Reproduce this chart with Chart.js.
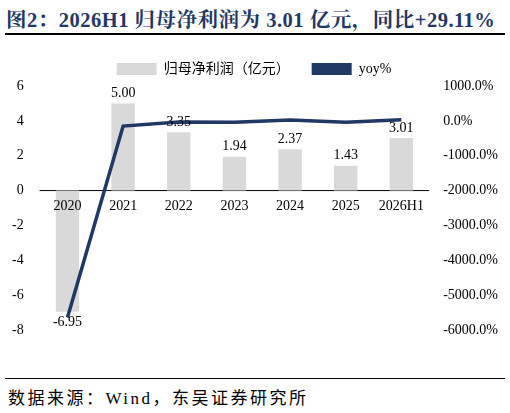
<!DOCTYPE html><html><head><meta charset="utf-8">
<script src="https://cdn.jsdelivr.net/npm/chart.js@4"></script>
<style>
body{margin:0;width:510px;height:413px;background:#fff;font-family:"Times New Roman","Liberation Serif","Noto Sans CJK SC",serif;position:relative}
#t{position:absolute;left:6px;top:3px;font-size:20.5px;font-weight:bold;color:#1f3864;font-family:"Liberation Serif","Noto Serif CJK SC","Noto Sans CJK SC",serif;white-space:nowrap;letter-spacing:0.5px}
#l1{position:absolute;left:5px;right:5px;top:33px;height:2px;background:#000}
#l2{position:absolute;left:5px;right:5px;top:378px;height:1px;background:#000}
#s{position:absolute;left:8px;top:384px;font-size:17px;color:#000;font-family:"Liberation Serif","Noto Sans CJK SC",serif;letter-spacing:2.5px}
#c{position:absolute;left:0;top:40px}
</style></head><body>
<div id="t">图2：2026H1 归母净利润为 3.01 亿元，同比+29.11%</div>
<div id="l1"></div>
<canvas id="c" width="510" height="335"></canvas>
<div id="l2"></div>
<div id="s">数据来源：Wind，东吴证券研究所</div>
<script>
const categories=["2020","2021","2022","2023","2024","2025","2026H1"];
const profit=[-6.95,5.00,3.35,1.94,2.37,1.43,3.01];
const yoy=[-5640,-150,-33,-42,22,-40,29.11];
const leftTicks=[6,4,2,0,-2,-4,-6,-8];
const F='"Liberation Serif","Times New Roman",serif';
const labelPlugin={id:'lbl',afterDatasetsDraw(ch){const ctx=ch.ctx;const m=ch.getDatasetMeta(1);const y0=ch.scales.y.getPixelForValue(0);ctx.save();ctx.font='14px '+F;ctx.fillStyle='#000';ctx.textAlign='center';
m.data.forEach((b,i)=>{const v=profit[i];if(v<0){ctx.textBaseline='top';ctx.fillText(v.toFixed(2),b.x,b.y+4);}else{ctx.textBaseline='bottom';ctx.fillText(v.toFixed(2),b.x,b.y-3);}
ctx.textBaseline='top';ctx.fillText(categories[i],b.x,y0+9);});ctx.restore();}};
new Chart(document.getElementById('c'),{data:{labels:categories,datasets:[
{type:'line',label:'yoy%',data:yoy,yAxisID:'y1',borderColor:'#1f3864',backgroundColor:'#1f3864',borderWidth:3.5,pointRadius:0,tension:0,order:0},
{type:'bar',label:'归母净利润（亿元）',data:profit,yAxisID:'y',backgroundColor:'#d9d9d9',barPercentage:0.42,categoryPercentage:1,order:1}]},
options:{responsive:false,animation:false,layout:{padding:{left:4,right:6,top:0,bottom:45}},
plugins:{legend:{labels:{font:{size:14,family:F+',"Noto Sans CJK SC"'},color:'#000',boxWidth:40,boxHeight:12,padding:22,
generateLabels(ch){return [{text:'归母净利润（亿元）',fillStyle:'#d9d9d9',strokeStyle:'#d9d9d9',lineWidth:0,datasetIndex:1},{text:'yoy%',fillStyle:'#1f3864',strokeStyle:'#1f3864',lineWidth:0,datasetIndex:0}]}}},tooltip:{enabled:false}},
scales:{x:{display:false},
y:{min:-8,max:6,afterBuildTicks(a){a.ticks=leftTicks.map(v=>({value:v}))},grid:{display:false},border:{display:false},ticks:{font:{size:14,family:F},color:'#000',padding:8}},
y1:{position:'right',min:-6000,max:1000,afterBuildTicks(a){a.ticks=[1000,0,-1000,-2000,-3000,-4000,-5000,-6000].map(v=>({value:v}))},grid:{display:false},border:{display:false},ticks:{font:{size:14,family:F},color:'#000',padding:6,callback:v=>v.toFixed(1)+'%'}}}},
plugins:[labelPlugin,{id:'zero',beforeDatasetsDraw(ch){const y=ch.scales.y.getPixelForValue(0);const c=ch.ctx;c.save();c.strokeStyle='#000';c.lineWidth=1;c.beginPath();c.moveTo(ch.chartArea.left,y);c.lineTo(ch.chartArea.right,y);c.stroke();c.restore();}}]});
</script></body></html>
